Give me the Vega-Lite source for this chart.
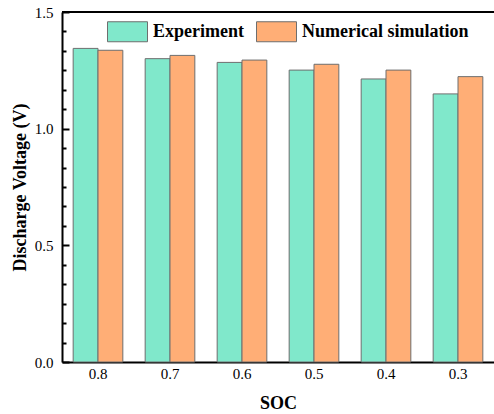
{
  "$schema": "https://vega.github.io/schema/vega-lite/v6.json",
  "width": 432,
  "height": 350,
  "autosize": {"type": "none"},
  "padding": {"left": 62, "top": 12, "right": 0, "bottom": 52},
  "background": "white",
  "config": {
    "view": {"stroke": null},
    "font": "Liberation Serif"
  },
  "data": {
    "values": [
      {"SOC": "0.8", "series": "Experiment", "voltage": 1.344},
      {"SOC": "0.8", "series": "Numerical simulation", "voltage": 1.336},
      {"SOC": "0.7", "series": "Experiment", "voltage": 1.300},
      {"SOC": "0.7", "series": "Numerical simulation", "voltage": 1.314},
      {"SOC": "0.6", "series": "Experiment", "voltage": 1.284},
      {"SOC": "0.6", "series": "Numerical simulation", "voltage": 1.294},
      {"SOC": "0.5", "series": "Experiment", "voltage": 1.251},
      {"SOC": "0.5", "series": "Numerical simulation", "voltage": 1.276},
      {"SOC": "0.4", "series": "Experiment", "voltage": 1.213},
      {"SOC": "0.4", "series": "Numerical simulation", "voltage": 1.251},
      {"SOC": "0.3", "series": "Experiment", "voltage": 1.149},
      {"SOC": "0.3", "series": "Numerical simulation", "voltage": 1.223}
    ]
  },
  "layer": [
    {
      "mark": {"type": "bar", "stroke": "#6e6e6e", "strokeWidth": 1},
      "encoding": {
        "x": {
          "field": "SOC",
          "type": "nominal",
          "sort": null,
          "scale": {"paddingInner": 0.31, "paddingOuter": 0.155},
          "axis": {
            "title": "SOC",
            "titleFont": "Liberation Serif",
            "titleFontSize": 18,
            "titleFontWeight": "bold",
            "titleColor": "black",
            "titlePadding": 13,
            "labelFont": "Liberation Serif",
            "labelFontSize": 15,
            "labelColor": "black",
            "labelAngle": 0,
            "labelPadding": 9,
            "domainColor": "black",
            "domainWidth": 2,
            "tickColor": "black",
            "tickWidth": 2,
            "tickSize": -5
          }
        },
        "xOffset": {"field": "series", "type": "nominal", "scale": {"paddingInner": 0, "paddingOuter": 0}},
        "y": {
          "field": "voltage",
          "type": "quantitative",
          "scale": {"domain": [0, 1.5], "nice": false},
          "axis": {
            "title": "Discharge Voltage (V)",
            "titleFont": "Liberation Serif",
            "titleFontSize": 18,
            "titleFontWeight": "bold",
            "titleColor": "black",
            "titlePadding": 5,
            "tickCount": 40,
            "values": [0, 0.083333, 0.166667, 0.25, 0.333333, 0.416667, 0.5, 0.583333, 0.666667, 0.75, 0.833333, 0.916667, 1.0, 1.083333, 1.166667, 1.25, 1.333333, 1.416667, 1.5],
            "labelExpr": "(abs(datum.value) < 0.001 || abs(datum.value - 0.5) < 0.001 || abs(datum.value - 1) < 0.001 || abs(datum.value - 1.5) < 0.001) ? format(datum.value, '.1f') : ''",
            "labelOverlap": false,
            "labelBound": false,
            "labelFlush": false,
            "labelFont": "Liberation Serif",
            "labelFontSize": 15,
            "labelColor": "black",
            "labelPadding": 16,
            "domainColor": "black",
            "domainWidth": 2,
            "tickColor": "black",
            "tickWidth": 2,
            "tickSize": {"condition": {"test": "abs(datum.value * 2 - round(datum.value * 2)) < 0.001", "value": -7}, "value": -4},
            "grid": false
          }
        },
        "color": {
          "field": "series",
          "type": "nominal",
          "scale": {"domain": ["Experiment", "Numerical simulation"], "range": ["#80e8cb", "#ffae76"]},
          "legend": {
            "title": null,
            "orient": "none",
            "legendX": 45,
            "legendY": -1,
            "direction": "horizontal",
            "padding": 0,
            "symbolType": "M-1,-0.5H1V0.5H-1Z",
            "symbolSize": 1600,
            "symbolStrokeColor": "#6e6e6e",
            "symbolStrokeWidth": 1,
            "symbolOpacity": 1,
            "labelFont": "Liberation Serif",
            "labelFontSize": 18,
            "labelFontWeight": "bold",
            "labelColor": "black",
            "labelOffset": 5,
            "columnPadding": 10,
            "labelLimit": 300
          }
        }
      }
    },
    {
      "mark": {"type": "rule", "color": "black", "strokeWidth": 2},
      "encoding": {"y": {"datum": 1.5}}
    }
  ]
}
